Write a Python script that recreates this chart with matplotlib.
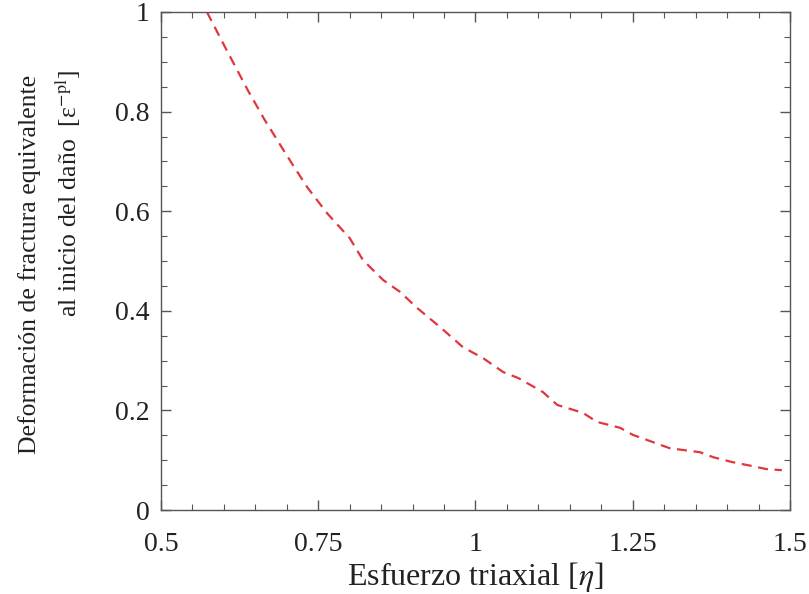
import matplotlib
matplotlib.use("Agg")
import matplotlib.pyplot as plt
from matplotlib.ticker import MultipleLocator, FixedLocator

triaxiality = [0.573, 0.600, 0.638, 0.665, 0.700, 0.732, 0.764, 0.800, 0.821, 0.853,
               0.880, 0.907, 0.944, 0.980, 1.012, 1.044, 1.068, 1.107, 1.130, 1.171,
               1.193, 1.230, 1.250, 1.309, 1.357, 1.378, 1.409, 1.441, 1.463, 1.487]
strain = [1.000, 0.934, 0.843, 0.783, 0.712, 0.649, 0.596, 0.546, 0.502, 0.462,
          0.438, 0.406, 0.367, 0.327, 0.305, 0.277, 0.265, 0.237, 0.211, 0.195,
          0.177, 0.165, 0.151, 0.124, 0.116, 0.106, 0.096, 0.088, 0.082, 0.080]
xticks = [0.5, 0.75, 1.0, 1.25, 1.5]
xticklabels = ["0.5", "0.75", "1", "1.25", "1.5"]
yticks = [0, 0.2, 0.4, 0.6, 0.8, 1.0]
yticklabels = ["0", "0.2", "0.4", "0.6", "0.8", "1"]

plt.rcParams['font.family'] = ['Liberation Serif', 'DejaVu Serif']
plt.rcParams['mathtext.fontset'] = 'stix'

fig = plt.figure(figsize=(8.09, 5.94), dpi=100)
ax = fig.add_axes([0.199, 0.1414, 0.7775, 0.8384])

ax.plot(triaxiality, strain, color='#e0363c', lw=1.6, dashes=(4.5, 3))

ax.set_xlim(0.5, 1.5)
ax.set_ylim(0, 1)
ax.xaxis.set_major_locator(FixedLocator(xticks))
ax.set_xticklabels(xticklabels)
ax.yaxis.set_major_locator(FixedLocator(yticks))
ax.set_yticklabels(yticklabels)
ax.xaxis.set_minor_locator(MultipleLocator(0.05))
ax.yaxis.set_minor_locator(MultipleLocator(0.05))

for s in ax.spines.values():
    s.set_color('#555555')
    s.set_linewidth(1.0)
ax.tick_params(which='both', direction='in', top=True, right=True, color='#555555')
ax.tick_params(which='major', length=7, width=1.0, labelsize=20, labelcolor='#222222')
ax.tick_params(axis='y', which='major', pad=8)
ax.tick_params(axis='x', which='major', pad=16)
ax.tick_params(which='minor', length=4, width=0.8)

ax.set_xlabel(r"Esfuerzo triaxial [$\eta$]", fontsize=23, color='#222222', labelpad=2)

fig.text(0.037, 0.554, "Deformación de fractura equivalente", rotation=90,
         ha='center', va='center', fontsize=18.5, color='#222222')
fig.text(0.084, 0.675, r"al inicio del daño  [ε$^{\mathrm{-pl}}$]", rotation=90,
         ha='center', va='center', fontsize=18.5, color='#222222')

fig.savefig("out.png", dpi=100)
